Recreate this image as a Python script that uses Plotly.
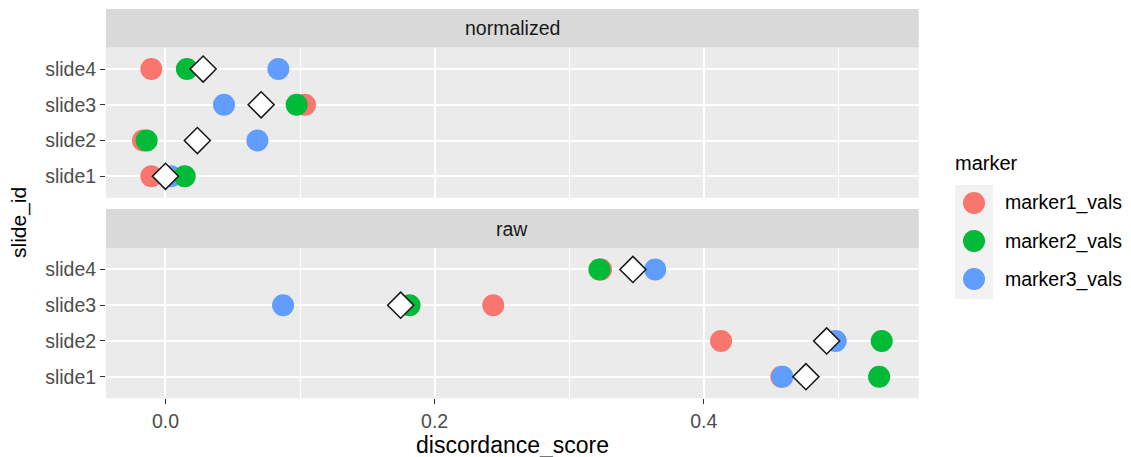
import plotly.graph_objects as go

# Category and series data
slides = ["slide1", "slide2", "slide3", "slide4"]
marker_names = ["marker1_vals", "marker2_vals", "marker3_vals"]
marker_colors = ["#F8766D", "#00BA38", "#619CFF"]

normalized_marker1 = [-0.0105, -0.0167, 0.1037, -0.0105]
normalized_marker2 = [0.0143, -0.0140, 0.0975, 0.0159]
normalized_marker3 = [0.0040, 0.0683, 0.0435, 0.0839]
normalized_summary = [0.0000, 0.0237, 0.0711, 0.0280]

raw_marker1 = [0.4577, 0.4129, 0.2436, 0.3237]
raw_marker2 = [0.5304, 0.5323, 0.1814, 0.3225]
raw_marker3 = [0.4585, 0.4981, 0.0874, 0.3640]
raw_summary = [0.4760, 0.4914, 0.1748, 0.3474]

x_ticks = [0.0, 0.2, 0.4]
x_tick_labels = ["0.0", "0.2", "0.4"]

FONT = "Liberation Sans, Arial, Helvetica, sans-serif"
SMALL = 19.5   # tick, strip and legend text
LARGE = 23     # x axis title
W, H = 1131, 457


def fx(px):
    return px / W


def fy(px):
    return 1 - px / H


panel_x = [fx(106), fx(918.7)]
facets = [
    {"name": "normalized", "xa": "x", "ya": "y",
     "panel": [fy(197.7), fy(47.6)], "strip": [fy(47.6), fy(9)],
     "series": [normalized_marker1, normalized_marker2, normalized_marker3],
     "summary": normalized_summary},
    {"name": "raw", "xa": "x2", "ya": "y2",
     "panel": [fy(398.2), fy(248)], "strip": [fy(248), fy(209)],
     "series": [raw_marker1, raw_marker2, raw_marker3],
     "summary": raw_summary},
]

fig = go.Figure()

draw_order = [0, 2, 1]
for fc in facets:
    for i in draw_order:
        fig.add_trace(go.Scatter(
            x=fc["series"][i], y=slides, mode="markers",
            name=marker_names[i], showlegend=False,
            xaxis=fc["xa"], yaxis=fc["ya"],
            marker=dict(size=22, color=marker_colors[i], line=dict(width=0)),
        ))
    fig.add_trace(go.Scatter(
        x=fc["summary"], y=slides, mode="markers", name="summary",
        showlegend=False, xaxis=fc["xa"], yaxis=fc["ya"],
        marker=dict(symbol="diamond", size=20, color="white",
                    line=dict(width=1.6, color="#1A1A1A")),
    ))

x_range = [-0.0442, 0.5598]
common_x = dict(
    range=x_range, domain=panel_x, tickvals=x_ticks, ticktext=x_tick_labels,
    showgrid=True, gridcolor="white", gridwidth=1.7, zeroline=False,
    showline=False,
    minor=dict(tickvals=[0.1, 0.3, 0.5], showgrid=True, gridcolor="white",
               gridwidth=0.8, ticks=""),
)
common_y = dict(
    type="category", categoryorder="array", categoryarray=slides,
    range=[-0.6, 3.6], showgrid=True, gridcolor="white", gridwidth=1.7,
    zeroline=False, showline=False, ticks="outside", ticklen=5,
    tickwidth=1, tickcolor="#333333",
    tickfont=dict(family=FONT, size=SMALL, color="#4D4D4D"),
)

shapes = []
annotations = []
for fc in facets:
    shapes.append(dict(type="rect", xref="paper", yref="paper",
                       x0=panel_x[0], x1=panel_x[1],
                       y0=fc["strip"][0], y1=fc["strip"][1],
                       fillcolor="#D9D9D9", line=dict(width=0), layer="below"))
    annotations.append(dict(text=fc["name"], xref="paper", yref="paper",
                            x=(panel_x[0] + panel_x[1]) / 2,
                            y=(fc["strip"][0] + fc["strip"][1]) / 2,
                            showarrow=False, yanchor="middle",
                            font=dict(family=FONT, size=SMALL, color="#1A1A1A")))

# Axis titles
annotations.append(dict(text="discordance_score", xref="paper", yref="paper",
                        x=(panel_x[0] + panel_x[1]) / 2, y=fy(445),
                        showarrow=False, yanchor="middle",
                        font=dict(family=FONT, size=LARGE, color="black")))
annotations.append(dict(text="slide_id", xref="paper", yref="paper",
                        x=fx(19), y=fy(223), textangle=-90, showarrow=False,
                        xanchor="center", yanchor="middle",
                        font=dict(family=FONT, size=21, color="black")))

# Legend
annotations.append(dict(text="marker", xref="paper", yref="paper",
                        x=fx(953), y=fy(163), xanchor="left", yanchor="middle",
                        showarrow=False,
                        font=dict(family=FONT, size=20, color="black")))
shapes.append(dict(type="rect", xref="paper", yref="paper",
                   x0=fx(955), x1=fx(993), y0=fy(299), y1=fy(185),
                   fillcolor="#F2F2F2", line=dict(width=0)))
for i, (nm, col) in enumerate(zip(marker_names, marker_colors)):
    cy = 203 + 38 * i
    shapes.append(dict(type="circle", xref="paper", yref="paper",
                       x0=fx(974 - 11), x1=fx(974 + 11),
                       y0=fy(cy + 11), y1=fy(cy - 11),
                       fillcolor=col, line=dict(width=0)))
    annotations.append(dict(text=nm, xref="paper", yref="paper",
                            x=fx(1003), y=fy(cy), xanchor="left",
                            yanchor="middle", showarrow=False,
                            font=dict(family=FONT, size=SMALL, color="black")))

fig.update_layout(
    width=W, height=H,
    margin=dict(l=0, r=0, t=0, b=0),
    paper_bgcolor="white", plot_bgcolor="#EBEBEB",
    font=dict(family=FONT),
    showlegend=False,
    xaxis=dict(common_x, anchor="y", matches="x2", showticklabels=False,
               ticks=""),
    xaxis2=dict(common_x, anchor="y2", ticks="outside", ticklen=5,
                tickwidth=1, tickcolor="#333333",
                tickfont=dict(family=FONT, size=SMALL, color="#4D4D4D")),
    yaxis=dict(common_y, domain=facets[0]["panel"], anchor="x"),
    yaxis2=dict(common_y, domain=facets[1]["panel"], anchor="x2"),
    shapes=shapes,
    annotations=annotations,
)

fig.write_html("out.html")
